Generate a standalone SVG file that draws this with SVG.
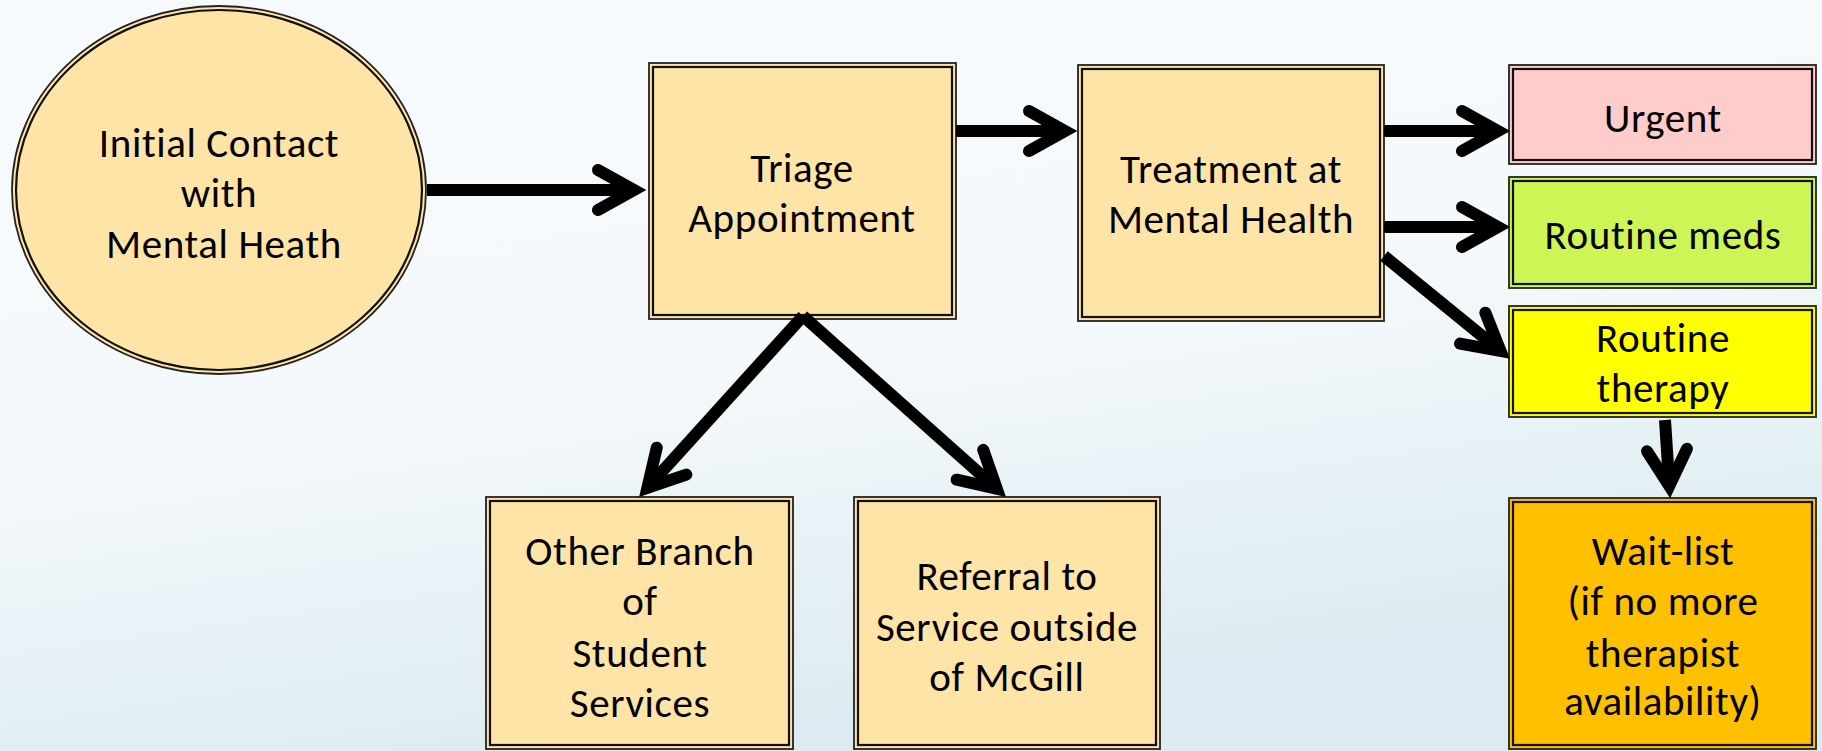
<svg xmlns="http://www.w3.org/2000/svg" width="1822" height="751" viewBox="0 0 1822 751">
<defs>
<linearGradient id="bg" x1="0" y1="0" x2="0.35" y2="1">
<stop offset="0" stop-color="#F6FAFD"/>
<stop offset="0.55" stop-color="#F5F9FB"/>
<stop offset="1" stop-color="#DCEBF1"/>
</linearGradient>
<polyline id="head" points="-36,-20 0,0 -36,20"/>
</defs>
<style>
.box{stroke:#222;stroke-width:1.8}
.inner{fill:none;stroke:#111;stroke-width:2.2}
.t{font-family:Calibri,Carlito,Lato,"Liberation Sans",sans-serif;font-size:41px;letter-spacing:0.6px;fill:#000;text-anchor:middle}
.peach{fill:#FFE4A8}
.conn line{stroke:#000;stroke-width:12;stroke-linecap:butt}
.conn use{fill:none;stroke:#000;stroke-width:12;stroke-linecap:round;stroke-linejoin:miter}
</style>
<rect width="1822" height="751" fill="url(#bg)"/>

<g id="initial-contact">
<ellipse class="box peach" cx="219" cy="190" rx="207" ry="184"/>
<ellipse class="inner" cx="219" cy="190" rx="203" ry="180" stroke-width="1.5"/>
<text class="t"><tspan x="219" y="157">Initial Contact</tspan><tspan x="219" y="207">with</tspan><tspan x="224" y="258">Mental Heath</tspan></text>
</g>

<g id="triage">
<rect class="box peach" x="649" y="63" width="307" height="256"/>
<rect class="inner" x="653" y="67" width="299" height="248"/>
<text class="t"><tspan x="802" y="182">Triage</tspan><tspan x="802" y="232">Appointment</tspan></text>
</g>

<g id="treatment">
<rect class="box peach" x="1078" y="65" width="306" height="256"/>
<rect class="inner" x="1082" y="69" width="298" height="248"/>
<text class="t"><tspan x="1231" y="183">Treatment at</tspan><tspan x="1231" y="233">Mental Health</tspan></text>
</g>

<g id="urgent">
<rect class="box" fill="#FFCCCC" x="1509" y="65" width="307" height="99"/>
<rect class="inner" x="1513" y="69" width="299" height="91"/>
<text class="t" x="1663" y="132">Urgent</text>
</g>

<g id="routine-meds">
<rect class="box" fill="#CCF555" x="1509" y="177" width="307" height="111"/>
<rect class="inner" x="1513" y="181" width="299" height="103"/>
<text class="t" x="1663" y="249">Routine meds</text>
</g>

<g id="routine-therapy">
<rect class="box" fill="#FFFF00" x="1509" y="306" width="307" height="111"/>
<rect class="inner" x="1513" y="310" width="299" height="103"/>
<text class="t"><tspan x="1663" y="352">Routine</tspan><tspan x="1663" y="402">therapy</tspan></text>
</g>

<g id="wait-list">
<rect class="box" fill="#FFC000" x="1509" y="498" width="307" height="251"/>
<rect class="inner" x="1513" y="502" width="299" height="243"/>
<text class="t"><tspan x="1663" y="565">Wait-list</tspan><tspan x="1663" y="615">(if no more</tspan><tspan x="1663" y="667">therapist</tspan><tspan x="1663" y="715">availability)</tspan></text>
</g>

<g id="other-branch">
<rect class="box peach" x="486" y="497" width="307" height="252"/>
<rect class="inner" x="490" y="501" width="299" height="244"/>
<text class="t"><tspan x="640" y="565">Other Branch</tspan><tspan x="640" y="615">of</tspan><tspan x="640" y="667">Student</tspan><tspan x="640" y="717">Services</tspan></text>
</g>

<g id="referral">
<rect class="box peach" x="854" y="497" width="306" height="252"/>
<rect class="inner" x="858" y="501" width="298" height="244"/>
<text class="t"><tspan x="1007" y="590">Referral to</tspan><tspan x="1007" y="641">Service outside</tspan><tspan x="1007" y="691">of McGill</tspan></text>
</g>

<g id="connectors" class="conn">
<line x1="427" y1="190" x2="634" y2="190"/>
<use href="#head" transform="translate(634,190)"/>
<line x1="956" y1="131" x2="1065" y2="131"/>
<use href="#head" transform="translate(1065,131)"/>
<line x1="1384" y1="131" x2="1498" y2="131"/>
<use href="#head" transform="translate(1498,131)"/>
<line x1="1384" y1="227" x2="1498" y2="227"/>
<use href="#head" transform="translate(1498,227)"/>
<line x1="1384" y1="256" x2="1500.5" y2="351"/>
<use href="#head" transform="translate(1500.5,351) rotate(39.4)"/>
<line x1="1665" y1="420" x2="1669.3" y2="486"/>
<use href="#head" transform="translate(1669.3,486) rotate(86.3)"/>
<line x1="803" y1="316" x2="647.4" y2="487.8"/>
<use href="#head" transform="translate(647.4,487.8) rotate(132.2)"/>
<line x1="803" y1="316" x2="996.8" y2="488.7"/>
<use href="#head" transform="translate(996.8,488.7) rotate(41.7)"/>
</g>
</svg>
